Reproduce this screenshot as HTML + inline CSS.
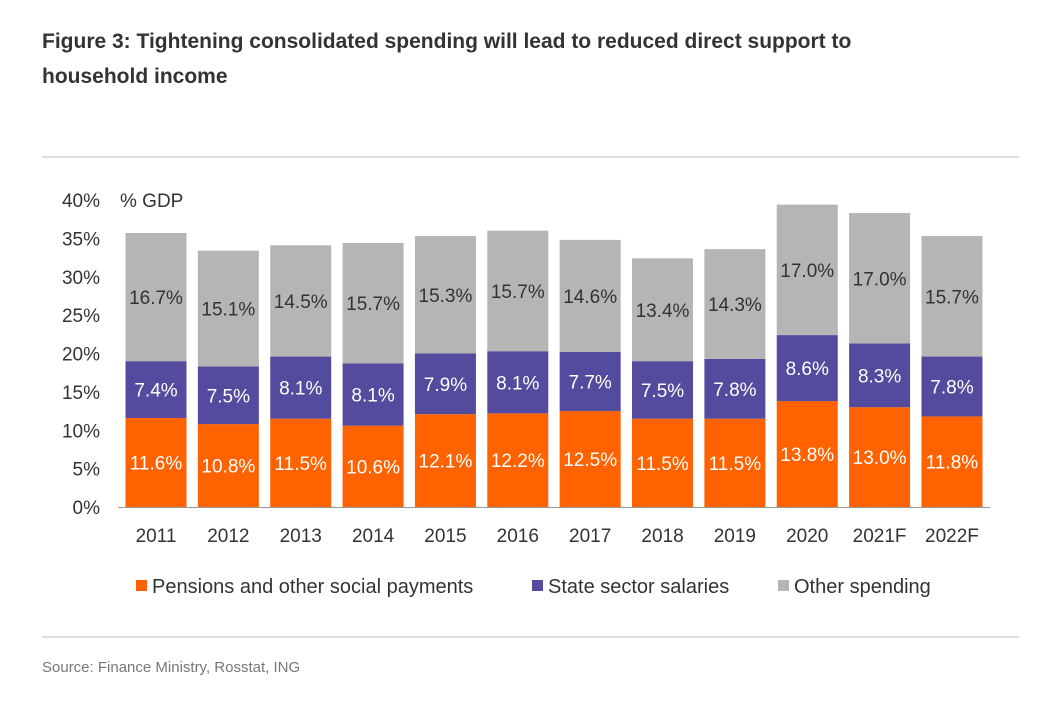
<!DOCTYPE html>
<html><head><meta charset="utf-8"><style>
body{margin:0;width:1054px;height:702px;background:#fff;font-family:"Liberation Sans",sans-serif;overflow:hidden;position:relative}
.title{position:absolute;left:42px;top:24px;font-size:21px;font-weight:bold;color:#333;line-height:35px;width:880px}
.rule{position:absolute;left:42px;width:977px;height:2px;background:#ddd}
.src{position:absolute;left:42px;top:659px;font-size:15px;color:#777}
</style></head><body>
<div class="title">Figure 3: Tightening consolidated spending will lead to reduced direct support to household income</div>
<div class="rule" style="top:156px"></div>
<div class="rule" style="top:636px"></div>
<div class="src">Source: Finance Ministry, Rosstat, ING</div>
<svg id="chart" width="1054" height="702" style="position:absolute;left:0;top:0"></svg>
<script>
const categories=["2011","2012","2013","2014","2015","2016","2017","2018","2019","2020","2021F","2022F"];
const pensions=[11.6,10.8,11.5,10.6,12.1,12.2,12.5,11.5,11.5,13.8,13.0,11.8];
const salaries=[7.4,7.5,8.1,8.1,7.9,8.1,7.7,7.5,7.8,8.6,8.3,7.8];
const other=[16.7,15.1,14.5,15.7,15.3,15.7,14.6,13.4,14.3,17.0,17.0,15.7];
const yTicks=[0,5,10,15,20,25,30,35,40];
const ns="http://www.w3.org/2000/svg";
const svg=document.getElementById('chart');
const y=v=>507-v*7.675;
const x=i=>156+i*72.36;
const bw=61;
function mk(t,a,txt){const e=document.createElementNS(ns,t);for(const k in a)e.setAttribute(k,a[k]);if(txt!==undefined)e.textContent=txt;svg.appendChild(e);return e;}
yTicks.forEach(t=>{const e=mk('text',{x:100,y:y(t)+7,'text-anchor':'end','font-size':19,fill:'#333'},t+'%');

});
const u=mk('text',{x:120,y:y(40)+7,'font-size':19,fill:'#333'},'% GDP');


const series=[[pensions,'#FF6200','#fff','pensions'],[salaries,'#544A9E','#fff','salaries'],[other,'#B5B5B5','#333','other']];
categories.forEach((c,i)=>{let base=0;
series.forEach(s=>{const v=s[0][i];
const r=mk('rect',{x:x(i)-bw/2,y:y(base+v),width:bw,height:y(base)-y(base+v),fill:s[1]});


const t=mk('text',{x:x(i),y:y(base+v/2)+7,'text-anchor':'middle','font-size':19,fill:s[2]},v.toFixed(1)+'%');


base+=v;});
const l=mk('text',{x:x(i),y:542,'text-anchor':'middle','font-size':19,fill:'#333'},c);

});
const ax=mk('line',{x1:118,x2:990,y1:507.5,y2:507.5,stroke:'#999','stroke-width':1});


[[136,'#FF6200','Pensions and other social payments'],[532,'#544A9E','State sector salaries'],[778,'#B5B5B5','Other spending']].forEach(l=>{
const r=mk('rect',{x:l[0],y:580,width:11,height:11,fill:l[1]});


const t=mk('text',{x:l[0]+16,y:593,'font-size':20,fill:'#333'},l[2]);

});
</script>
</body></html>
